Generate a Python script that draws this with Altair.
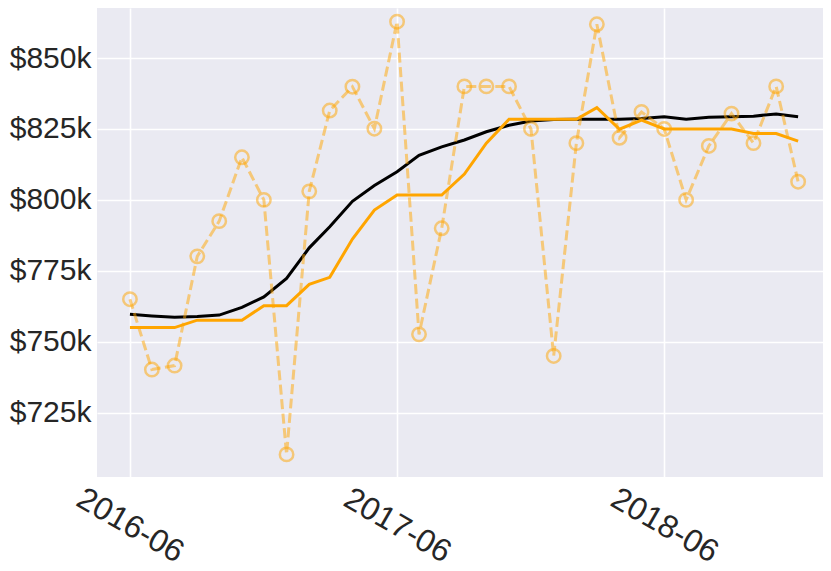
import altair as alt
import pandas as pd

# Monthly dates (categories)
months = pd.date_range("2016-06-01", periods=31, freq="MS").strftime("%Y-%m-%d").tolist()

# Values in thousands of dollars
raw_k = [765.0, 740.2, 741.6, 780.1, 792.5, 815.0, 800.0, 710.3, 803.0, 831.5,
         839.9, 825.1, 862.8, 752.6, 790.0, 840.0, 840.0, 840.0, 825.0, 745.0,
         820.0, 861.9, 821.9, 831.0, 825.0, 800.0, 819.0, 830.4, 820.0, 840.0, 806.4]
median_k = [755.0, 755.0, 755.0, 757.6, 757.6, 757.6, 762.7, 762.7, 770.2, 772.7,
            786.2, 796.4, 801.7, 801.7, 801.7, 809.1, 820.0, 828.4, 828.4, 828.4,
            828.4, 832.5, 824.9, 828.1, 825.0, 825.0, 825.0, 825.0, 823.4, 823.4, 820.7]
mean_k = [759.7, 759.1, 758.6, 758.9, 759.4, 762.1, 765.8, 772.3, 783.1, 790.5,
          799.5, 805.1, 809.9, 815.7, 818.7, 821.1, 824.0, 826.3, 827.8, 828.3,
          828.4, 828.4, 828.4, 828.7, 829.3, 828.4, 829.1, 829.3, 829.5, 830.3, 829.3]

y_ticks = [725000, 750000, 775000, 800000, 825000, 850000]

df = pd.DataFrame({
    "date": months,
    "raw": [v * 1000 for v in raw_k],
    "median": [v * 1000 for v in median_k],
    "mean": [v * 1000 for v in mean_k],
})

ORANGE = "#FFA500"

x_scale = alt.Scale(
    type="utc",
    domain=[alt.DateTime(year=2016, month=4, date=17, utc=True),
            alt.DateTime(year=2019, month=1, date=4, utc=True)],
    nice=False,
)
y_scale = alt.Scale(domain=[702330, 867630], nice=False, zero=False)

x_axis = alt.Axis(
    values=[alt.DateTime(year=2016, month=6, date=1, utc=True),
            alt.DateTime(year=2017, month=6, date=1, utc=True),
            alt.DateTime(year=2018, month=6, date=1, utc=True)],
    labelExpr="utcFormat(datum.value, '%Y-%m')",
    labelAngle=30,
    labelAlign="center",
    labelBaseline="middle",
    labelPadding=48,
    labelFontSize=32,
    title=None,
)
y_axis = alt.Axis(
    values=y_ticks,
    labelExpr="'$' + format(datum.value / 1000, 'd') + 'k'",
    labelPadding=6,
    labelFontSize=30,
    title=None,
)

base = alt.Chart(df).encode(x=alt.X("date:T", scale=x_scale, axis=x_axis))

mean_line = base.mark_line(color="black", strokeWidth=3).encode(
    y=alt.Y("mean:Q", scale=y_scale, axis=y_axis)
)
median_line = base.mark_line(color=ORANGE, strokeWidth=3).encode(
    y=alt.Y("median:Q", scale=y_scale)
)
raw_line = base.mark_line(color=ORANGE, strokeWidth=3, strokeDash=[10, 4.5], opacity=0.5).encode(
    y=alt.Y("raw:Q", scale=y_scale)
)
raw_pts = base.mark_point(shape="circle", filled=False, size=180, strokeWidth=2.5,
                          color=ORANGE, opacity=0.5).encode(
    y=alt.Y("raw:Q", scale=y_scale)
)

chart = (
    alt.layer(mean_line, median_line, raw_line, raw_pts)
    .properties(
        width=726,
        height=469,
        autosize=alt.AutoSizeParams(type="none"),
        padding={"left": 89, "top": 0, "right": 0, "bottom": 94},
    )
    .configure_view(fill="#EAEAF2", strokeWidth=0)
    .configure_axis(
        domain=False,
        ticks=False,
        grid=True,
        gridColor="white",
        gridWidth=1.6,
        labelFont="Liberation Sans",
        labelColor="#262626",
    )
)

chart.save("out.html", embed_options={"renderer": "svg", "actions": False})
